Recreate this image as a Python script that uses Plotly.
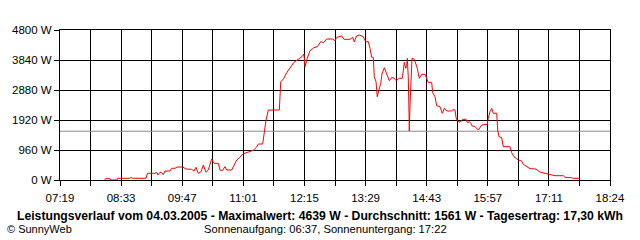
import numpy as np
import plotly.graph_objects as go

# time in minutes since midnight, power in W
time_min = [493, 494, 499.5, 500, 508, 508.5, 523.6, 524, 526, 526.7, 543, 544.8, 553.9, 555.9, 557.5,
            559.9, 562, 563.9, 566, 572, 574, 578, 580.8, 587.4, 591.3, 598.2, 601, 603.4, 606.2, 609.5,
            612.3, 615.5, 618.3, 622.4, 625.2, 630.4, 632.5, 635.7, 638.5, 640.6, 646.6, 649.4, 652.6,
            655.8, 659.9, 666.7, 672.7, 676.8, 678.8, 684.1, 685.7, 688.1, 690.9, 704.2, 705.9, 709,
            713.1, 717.1, 721.9, 727.1, 732.4, 734, 735.2, 738, 741.3, 746.1, 750.1, 754.2, 757.4, 761.5,
            768.7, 771.5, 773.6, 779.6, 782.4, 789.6, 792.9, 794.8, 797.5, 800.9, 805.7, 808.6, 811.8,
            813.8, 815.9, 817.8, 819, 821.1, 822.6, 824.3, 826.8, 828.3, 831.1, 834, 837.2, 840.1, 843.2,
            845.3, 849.2, 852.9, 854.1, 855.3, 857, 858.2, 858.9, 860.1, 861, 861.3, 862.2, 863.4, 864.6,
            867.4, 869.1, 871, 873.4, 876.3, 880.3, 882.4, 884.3, 888.4, 889.6, 892.4, 894.5, 898.5,
            901.2, 903.7, 906.6, 912.6, 914.5, 916.6, 917.8, 919.4, 922.6, 925.9, 929.9, 931.5, 933.9,
            935.6, 936.8, 940.8, 944.8, 948.9, 955.6, 956.8, 958.9, 961, 962.9, 967, 968.2, 969.8, 973,
            975, 983.1, 985.1, 987.9, 993.1, 997.2, 999.1, 1003.3, 1007.3, 1014.5, 1019.4, 1025.4,
            1030.6, 1037.5, 1047.6, 1049.6, 1057.7, 1058.9, 1066.9]
power_w = [0, 42, 42, 0, 0, 54, 54, 74, 74, 54, 54, 214, 214, 246, 160,
           246, 234, 170, 288, 288, 374, 374, 416, 416, 352, 342, 288, 406, 214, 266,
           480, 246, 320, 672, 534, 534, 310, 310, 426, 320, 320, 480, 640,
           704, 832, 896, 950, 1056, 1152, 1152, 1440, 1920, 2240, 2240, 3146, 3222,
           3434, 3574, 3766, 3862, 3968, 4032, 3626, 3894, 4138, 4234, 4266, 4426, 4394, 4512,
           4512, 4458, 4566, 4608, 4502, 4502, 4566, 4416, 4608, 4639, 4586, 4426, 4426,
           4214, 3926, 3926, 3306, 3146, 2666, 2858, 3094, 3392, 3594, 3392, 3178, 3286, 3254,
           3178, 3254, 3254, 3626, 3766, 3574, 3626, 3894, 3306, 2134, 1568, 2400, 3306, 3894,
           3862, 3754, 3574, 3254, 3382, 3382, 3254, 3126, 3126, 2794, 2666, 2378, 2346,
           2134, 2294, 2208, 2208, 2262, 2240, 2006, 1898, 1846, 1942, 1942, 1834, 1866,
           1814, 1738, 1706, 1600, 1760, 1782, 1974, 2186, 2294, 2134, 2134, 1600, 1386, 1354,
           1066, 1066, 874, 746, 640, 608, 502, 426, 362, 352, 256, 214,
           182, 138, 138, 86, 74, 54, 54]

average_w = 1561
x_start, x_end = 439, 1104  # 07:19 .. 18:24
x_tick_labels = ["07:19", "08:33", "09:47", "11:01", "12:15", "13:29", "14:43", "15:57", "17:11", "18:24"]
y_tick_vals = [0, 960, 1920, 2880, 3840, 4800]
y_tick_labels = ["0 W", "960 W", "1920 W", "2880 W", "3840 W", "4800 W"]

title_text = ("Leistungsverlauf vom 04.03.2005 - Maximalwert: 4639 W - Durchschnitt: 1561 W"
              " - Tagesertrag: 17,30 kWh")
copyright_text = "© SunnyWeb"
sun_text = "Sonnenaufgang: 06:37, Sonnenuntergang: 17:22"

FONT = "Liberation Sans, Arial, sans-serif"

tickvals = list(np.linspace(x_start, x_end, 2 * (len(x_tick_labels) - 1) + 1))
ticktext = []
for i in range(len(tickvals)):
    ticktext.append(x_tick_labels[i // 2] if i % 2 == 0 else "")

fig = go.Figure()
fig.add_trace(go.Scatter(x=[x_start, x_end], y=[average_w, average_w], mode="lines",
                         line=dict(color="#8c8c8c", width=1), hoverinfo="skip"))
fig.add_trace(go.Scatter(x=time_min, y=power_w, mode="lines",
                         line=dict(color="#ff0000", width=1), hoverinfo="skip"))

fig.update_layout(
    width=640, height=240,
    margin=dict(l=60, r=30, t=30, b=60),
    paper_bgcolor="white", plot_bgcolor="white",
    showlegend=False,
    font=dict(family=FONT, size=11, color="black"),
    xaxis=dict(range=[x_start, x_end], tickvals=tickvals, ticktext=ticktext,
               showgrid=True, gridcolor="black", gridwidth=1,
               showline=True, linecolor="black", linewidth=1, mirror=True,
               ticks="outside", ticklen=5, tickcolor="black", tickwidth=1,
               zeroline=False, tickfont=dict(size=11.5, family=FONT), ticklabelstandoff=2),
    yaxis=dict(range=[0, 4800], tickvals=y_tick_vals, ticktext=y_tick_labels,
               showgrid=True, gridcolor="black", gridwidth=1,
               showline=True, linecolor="black", linewidth=1, mirror=True,
               ticks="outside", ticklen=5, tickcolor="black", tickwidth=1,
               zeroline=False, tickfont=dict(size=11.5, family=FONT)),
    annotations=[
        dict(text="<b>" + title_text + "</b>", xref="paper", yref="paper",
             x=(320 - 60) / 550, y=(180 - 215.5) / 150, xanchor="center", yanchor="middle",
             showarrow=False, font=dict(size=12.2, family=FONT, color="black")),
        dict(text=copyright_text, xref="paper", yref="paper",
             x=(5 - 60) / 550, y=(180 - 229) / 150, xanchor="left", yanchor="middle",
             showarrow=False, font=dict(size=11, family=FONT, color="black")),
        dict(text=sun_text, xref="paper", yref="paper",
             x=(202 - 60) / 550, y=(180 - 229) / 150, xanchor="left", yanchor="middle",
             showarrow=False, font=dict(size=11.2, family=FONT, color="black")),
    ],
)

fig.write_html("out.html", config={"displayModeBar": False})
